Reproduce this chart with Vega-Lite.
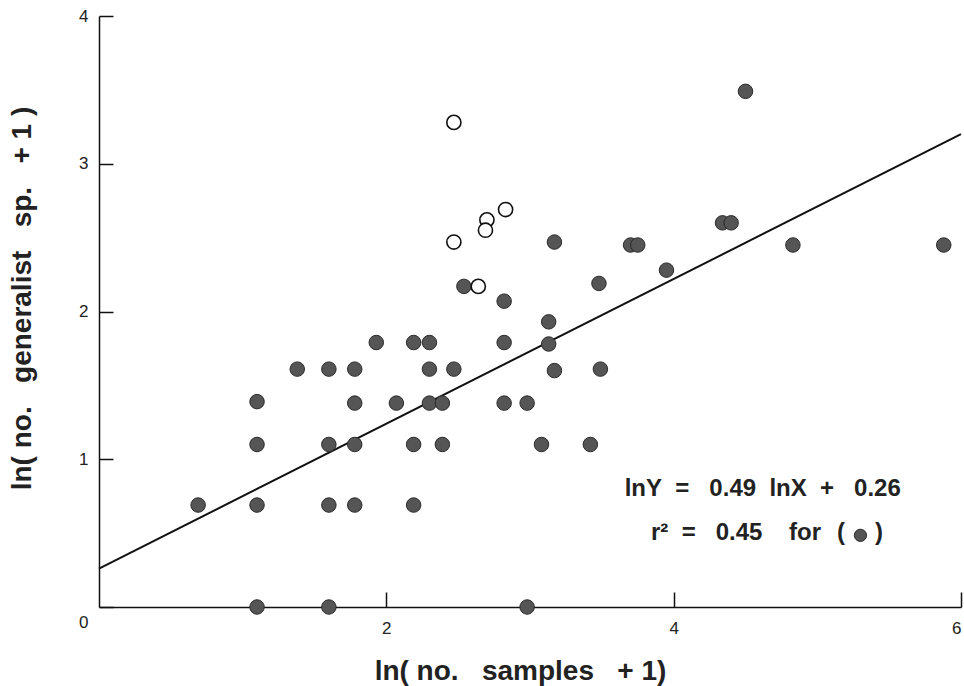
{
  "$schema": "https://vega.github.io/schema/vega-lite/v6.json",
  "autosize": "none",
  "width": 862,
  "height": 591,
  "padding": {"left": 99, "top": 16, "right": 3, "bottom": 79},
  "background": "white",
  "config": {"view": {"stroke": null}},
  "datasets": {
    "points": [
      {"x": 0.69, "y": 0.69, "group": "filled"},
      {"x": 1.10, "y": 1.39, "group": "filled"},
      {"x": 1.10, "y": 1.10, "group": "filled"},
      {"x": 1.10, "y": 0.69, "group": "filled"},
      {"x": 1.10, "y": 0.0, "group": "filled"},
      {"x": 1.38, "y": 1.61, "group": "filled"},
      {"x": 1.60, "y": 1.61, "group": "filled"},
      {"x": 1.78, "y": 1.61, "group": "filled"},
      {"x": 1.93, "y": 1.79, "group": "filled"},
      {"x": 2.19, "y": 1.79, "group": "filled"},
      {"x": 2.30, "y": 1.79, "group": "filled"},
      {"x": 2.30, "y": 1.61, "group": "filled"},
      {"x": 2.47, "y": 1.61, "group": "filled"},
      {"x": 2.82, "y": 1.79, "group": "filled"},
      {"x": 2.82, "y": 2.07, "group": "filled"},
      {"x": 3.13, "y": 1.93, "group": "filled"},
      {"x": 3.13, "y": 1.78, "group": "filled"},
      {"x": 3.17, "y": 1.60, "group": "filled"},
      {"x": 3.49, "y": 1.61, "group": "filled"},
      {"x": 1.78, "y": 1.38, "group": "filled"},
      {"x": 2.07, "y": 1.38, "group": "filled"},
      {"x": 2.30, "y": 1.38, "group": "filled"},
      {"x": 2.39, "y": 1.38, "group": "filled"},
      {"x": 2.82, "y": 1.38, "group": "filled"},
      {"x": 2.98, "y": 1.38, "group": "filled"},
      {"x": 1.60, "y": 1.10, "group": "filled"},
      {"x": 1.78, "y": 1.10, "group": "filled"},
      {"x": 2.19, "y": 1.10, "group": "filled"},
      {"x": 2.39, "y": 1.10, "group": "filled"},
      {"x": 3.08, "y": 1.10, "group": "filled"},
      {"x": 3.42, "y": 1.10, "group": "filled"},
      {"x": 1.60, "y": 0.69, "group": "filled"},
      {"x": 1.78, "y": 0.69, "group": "filled"},
      {"x": 2.19, "y": 0.69, "group": "filled"},
      {"x": 1.60, "y": 0.0, "group": "filled"},
      {"x": 2.98, "y": 0.0, "group": "filled"},
      {"x": 2.54, "y": 2.17, "group": "filled"},
      {"x": 3.17, "y": 2.47, "group": "filled"},
      {"x": 3.70, "y": 2.45, "group": "filled"},
      {"x": 3.75, "y": 2.45, "group": "filled"},
      {"x": 3.95, "y": 2.28, "group": "filled"},
      {"x": 3.48, "y": 2.19, "group": "filled"},
      {"x": 4.50, "y": 3.49, "group": "filled"},
      {"x": 4.34, "y": 2.60, "group": "filled"},
      {"x": 4.40, "y": 2.60, "group": "filled"},
      {"x": 4.83, "y": 2.45, "group": "filled"},
      {"x": 5.88, "y": 2.45, "group": "filled"},
      {"x": 2.47, "y": 3.28, "group": "open"},
      {"x": 2.83, "y": 2.69, "group": "open"},
      {"x": 2.70, "y": 2.62, "group": "open"},
      {"x": 2.69, "y": 2.55, "group": "open"},
      {"x": 2.47, "y": 2.47, "group": "open"},
      {"x": 2.64, "y": 2.17, "group": "open"}
    ],
    "fit": [
      {"x": 0, "y": 0.26},
      {"x": 6, "y": 3.20}
    ],
    "notes": [
      {"x": 4.62, "y": 0.80, "label": "lnY\u00a0\u00a0=\u00a0\u00a0\u00a00.49\u00a0\u00a0lnX\u00a0\u00a0+\u00a0\u00a0\u00a00.26"},
      {"x": 4.434, "y": 0.50, "label": "r²\u00a0\u00a0=\u00a0\u00a0\u00a00.45\u00a0\u00a0\u00a0\u00a0for"},
      {"x": 5.165, "y": 0.50, "label": "("},
      {"x": 5.43, "y": 0.50, "label": ")"}
    ],
    "key": [
      {"x": 5.30, "y": 0.485}
    ]
  },
  "encoding": {
    "x": {
      "field": "x", "type": "quantitative",
      "scale": {"domain": [0, 6], "nice": false, "zero": false},
      "axis": {
        "values": [2, 4, 6],
        "grid": false,
        "domainColor": "#111", "domainWidth": 1.5,
        "tickColor": "#111", "tickWidth": 1.5, "tickSize": -15,
        "labelFont": "Liberation Sans", "labelFontSize": 17, "labelColor": "#222",
        "labelPadding": 28,
        "title": "ln(\u00a0no.\u00a0\u00a0\u00a0samples\u00a0\u00a0\u00a0+\u00a01)",
        "titleFont": "Liberation Sans", "titleFontSize": 28, "titleFontWeight": "bold", "titleColor": "#222",
        "titleX": 421, "titleY": 72, "titleBaseline": "alphabetic", "titleAlign": "center"
      }
    },
    "y": {
      "field": "y", "type": "quantitative",
      "scale": {"domain": [0, 4], "nice": false, "zero": false},
      "axis": {
        "values": [0, 1, 2, 3, 4],
        "grid": false,
        "domainColor": "#111", "domainWidth": 1.5,
        "tickColor": "#111", "tickWidth": 1.5, "tickSize": -14,
        "labelFont": "Liberation Sans", "labelFontSize": 17, "labelColor": "#222",
        "labelPadding": 25,
        "labelOffset": {"condition": {"test": "datum.value == 0", "value": 15}, "value": 0},
        "title": "ln(\u00a0no.\u00a0\u00a0\u00a0generalist\u00a0\u00a0\u00a0sp.\u00a0\u00a0\u00a0+\u00a01\u00a0)",
        "titleFont": "Liberation Sans", "titleFontSize": 28, "titleFontWeight": "bold", "titleColor": "#222",
        "titleAngle": -90, "titleX": -69, "titleY": 282, "titleBaseline": "alphabetic", "titleAlign": "center"
      }
    }
  },
  "layer": [
    {
      "data": {"name": "fit"},
      "mark": {"type": "line", "color": "#111", "strokeWidth": 2}
    },
    {
      "data": {"name": "points"},
      "transform": [{"filter": "datum.group == 'filled'"}],
      "mark": {"type": "point", "shape": "circle", "filled": true, "fill": "#555", "stroke": "#2a2a2a", "strokeWidth": 1, "opacity": 1, "size": 210}
    },
    {
      "data": {"name": "points"},
      "transform": [{"filter": "datum.group == 'open'"}],
      "mark": {"type": "point", "shape": "circle", "filled": false, "fill": "white", "fillOpacity": 1, "stroke": "#111", "strokeWidth": 1.6, "opacity": 1, "size": 200}
    },
    {
      "data": {"name": "notes"},
      "mark": {"type": "text", "align": "center", "baseline": "middle", "font": "Liberation Sans", "fontSize": 24, "fontWeight": "bold", "color": "#222"},
      "encoding": {"text": {"field": "label"}}
    },
    {
      "data": {"name": "key"},
      "mark": {"type": "point", "shape": "circle", "filled": true, "fill": "#555", "stroke": "#2a2a2a", "strokeWidth": 1, "opacity": 1, "size": 150}
    }
  ]
}
